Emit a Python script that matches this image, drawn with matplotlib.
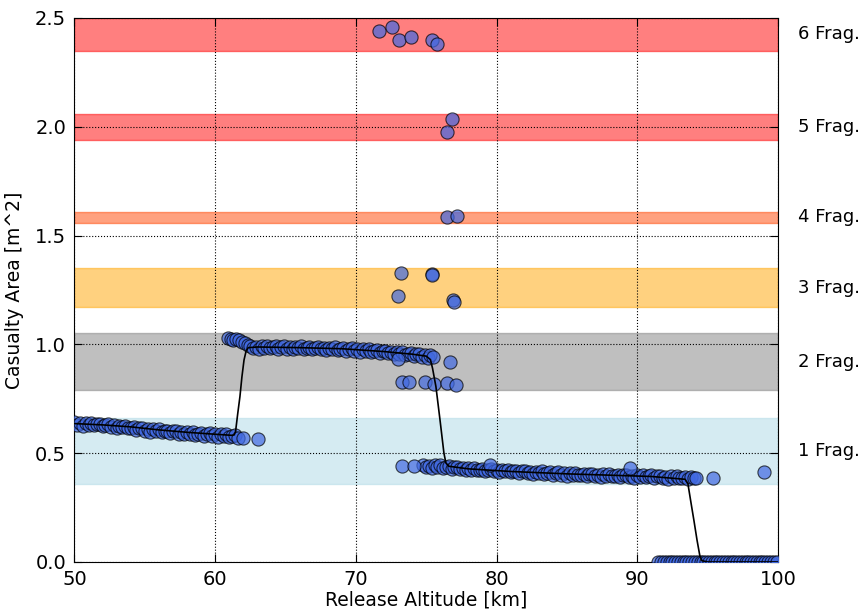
import numpy as np
import matplotlib.pyplot as plt

# fragment bands (casualty area ranges)
band_lo = [0.36, 0.79, 1.17, 1.56, 1.94, 2.35]
band_hi = [0.66, 1.05, 1.35, 1.61, 2.06, 2.50]
band_colors = ['lightblue', 'gray', 'orange', 'orangered', 'red', 'red']
frag_labels = ['1 Frag.', '2 Frag.', '3 Frag.', '4 Frag.', '5 Frag.', '6 Frag.']

# low altitude branch
alt_a = [50.0, 50.2, 50.4, 50.6, 50.8, 51.0, 51.2, 51.4, 51.6, 51.8, 52.0, 52.2,
         52.4, 52.6, 52.8, 53.0, 53.2, 53.4, 53.6, 53.8, 54.0, 54.2, 54.4, 54.6,
         54.8, 55.0, 55.2, 55.4, 55.6, 55.8, 56.0, 56.2, 56.4, 56.6, 56.8, 57.0,
         57.2, 57.4, 57.6, 57.8, 58.0, 58.2, 58.4, 58.6, 58.8, 59.0, 59.2, 59.4,
         59.6, 59.8, 60.0, 60.2, 60.4, 60.6, 60.8, 61.0, 61.2, 61.4, 61.6, 62.0,
         63.06]
area_a = [0.643, 0.630, 0.637, 0.627, 0.638, 0.631, 0.640, 0.628, 0.632, 0.635, 0.624, 0.631,
          0.634, 0.621, 0.628, 0.617, 0.627, 0.619, 0.627, 0.614, 0.617, 0.620, 0.608, 0.615,
          0.617, 0.604, 0.610, 0.599, 0.609, 0.602, 0.610, 0.597, 0.600, 0.604, 0.592, 0.600,
          0.602, 0.590, 0.596, 0.586, 0.596, 0.589, 0.597, 0.585, 0.588, 0.592, 0.581, 0.589,
          0.591, 0.579, 0.586, 0.576, 0.586, 0.580, 0.588, 0.576, 0.580, 0.584, 0.572, 0.568,
          0.564]

# two fragment branch
alt_b = [60.9, 61.1, 61.3, 61.5, 61.7, 61.9, 62.1, 62.3, 62.5, 62.7, 62.9, 63.1,
         63.3, 63.5, 63.7, 63.9, 64.1, 64.3, 64.5, 64.7, 64.9, 65.1, 65.3, 65.5,
         65.7, 65.9, 66.1, 66.3, 66.5, 66.7, 66.9, 67.1, 67.3, 67.5, 67.7, 67.9,
         68.1, 68.3, 68.5, 68.7, 68.9, 69.1, 69.3, 69.5, 69.7, 69.9, 70.1, 70.3,
         70.5, 70.7, 70.9, 71.1, 71.3, 71.5, 71.7, 71.9, 72.1, 72.3, 72.5, 72.7,
         72.9, 73.1, 73.3, 73.5, 73.7, 73.9, 74.1, 74.3, 74.5, 74.7, 74.9, 75.1,
         75.3, 75.5, 73.0, 76.7,
         73.25, 73.8, 74.9, 75.55, 76.45, 77.1]
area_b = [1.028, 1.025, 1.022, 1.026, 1.020, 1.012, 1.005, 0.995, 0.994, 0.983, 0.990, 0.981,
          0.991, 0.985, 0.994, 0.983, 0.987, 0.991, 0.980, 0.989, 0.992, 0.980, 0.987, 0.978,
          0.989, 0.982, 0.991, 0.980, 0.983, 0.988, 0.977, 0.985, 0.988, 0.977, 0.983, 0.974,
          0.984, 0.978, 0.986, 0.975, 0.978, 0.983, 0.971, 0.980, 0.982, 0.970, 0.977, 0.967,
          0.977, 0.970, 0.978, 0.966, 0.969, 0.973, 0.961, 0.969, 0.971, 0.959, 0.965, 0.955,
          0.964, 0.957, 0.965, 0.952, 0.955, 0.959, 0.947, 0.954, 0.956, 0.944, 0.950, 0.939,
          0.949, 0.941, 0.931, 0.918,
          0.829, 0.829, 0.829, 0.820, 0.822, 0.815]

# one fragment branch at high altitude
alt_c = [74.8, 75.0, 75.2, 75.4, 75.6, 75.8, 76.0, 76.2, 76.4, 76.6, 76.8, 77.0,
         77.2, 77.4, 77.6, 77.8, 78.0, 78.2, 78.4, 78.6, 78.8, 79.0, 79.2, 79.4,
         79.6, 79.8, 80.0, 80.2, 80.4, 80.6, 80.8, 81.0, 81.2, 81.4, 81.6, 81.8,
         82.0, 82.2, 82.4, 82.6, 82.8, 83.0, 83.2, 83.4, 83.6, 83.8, 84.0, 84.2,
         84.4, 84.6, 84.8, 85.0, 85.2, 85.4, 85.6, 85.8, 86.0, 86.2, 86.4, 86.6,
         86.8, 87.0, 87.2, 87.4, 87.6, 87.8, 88.0, 88.2, 88.4, 88.6, 88.8, 89.0,
         89.2, 89.4, 89.6, 89.8, 90.0, 90.2, 90.4, 90.6, 90.8, 91.0, 91.2, 91.4,
         91.6, 91.8, 92.0, 92.2, 92.4, 92.6, 92.8, 93.0, 93.2, 93.4, 93.6, 93.8,
         94.0, 94.2,
         73.25, 74.1, 79.5, 89.5, 95.36, 99.0]
area_c = [0.446, 0.435, 0.442, 0.433, 0.444, 0.437, 0.446, 0.433, 0.436, 0.440, 0.428, 0.436,
          0.438, 0.426, 0.432, 0.422, 0.432, 0.425, 0.433, 0.421, 0.425, 0.429, 0.417, 0.425,
          0.428, 0.416, 0.422, 0.412, 0.423, 0.416, 0.424, 0.412, 0.416, 0.420, 0.409, 0.417,
          0.419, 0.408, 0.414, 0.404, 0.415, 0.408, 0.416, 0.405, 0.408, 0.413, 0.401, 0.409,
          0.412, 0.400, 0.407, 0.397, 0.408, 0.401, 0.410, 0.398, 0.402, 0.406, 0.395, 0.403,
          0.406, 0.395, 0.401, 0.392, 0.403, 0.396, 0.405, 0.393, 0.397, 0.402, 0.390, 0.399,
          0.402, 0.390, 0.397, 0.388, 0.398, 0.392, 0.401, 0.389, 0.393, 0.398, 0.386, 0.395,
          0.397, 0.386, 0.392, 0.383, 0.394, 0.387, 0.396, 0.384, 0.388, 0.392, 0.381, 0.389,
          0.388, 0.385,
          0.440, 0.440, 0.446, 0.430, 0.385, 0.412]

# no survival
alt_d = [91.5, 91.7, 91.9, 92.1, 92.3, 92.5, 92.7, 92.9, 93.1, 93.3, 93.5, 93.7,
         93.9, 94.1, 94.3, 94.5, 94.7, 94.9, 95.1, 95.3, 95.5, 95.7, 95.9, 96.1,
         96.3, 96.5, 96.7, 96.9, 97.1, 97.3, 97.5, 97.7, 97.9, 98.1, 98.3, 98.5,
         98.7, 98.9, 99.1, 99.3, 99.5, 99.7, 99.9]
area_d = [0.0] * len(alt_d)

# multi fragment points
alt_e = [71.66, 72.59, 73.04, 73.89, 75.41, 75.79,
         76.81, 76.5,
         76.45, 77.16,
         73.2, 75.43, 75.4, 73.01, 76.88, 77.0]
area_e = [2.440, 2.460, 2.399, 2.411, 2.399, 2.381,
          2.034, 1.975,
          1.584, 1.592,
          1.327, 1.322, 1.318, 1.222, 1.204, 1.196]

# fitted curve
fit_alt = [50.0, 52.0, 54.0, 56.0, 58.0, 60.0, 61.2, 61.35, 61.45, 61.6, 61.76, 61.9,
           62.05, 62.2, 62.35, 63.0, 66.0, 69.0, 72.0, 74.0, 75.0, 75.3, 75.45, 75.69,
           75.98, 76.26, 76.4, 76.6, 78.0, 81.0, 85.0, 88.0, 91.0, 93.4, 93.6, 93.8,
           94.03, 94.25, 94.45, 94.6, 95.0, 100.0]
fit_area = [0.636, 0.630, 0.621, 0.607, 0.596, 0.587, 0.582, 0.584, 0.60, 0.68, 0.76, 0.85,
            0.928, 0.97, 0.985, 0.988, 0.985, 0.980, 0.967, 0.955, 0.946, 0.930, 0.89, 0.806,
            0.653, 0.50, 0.455, 0.440, 0.428, 0.416, 0.405, 0.399, 0.393, 0.380, 0.36, 0.28,
            0.19, 0.10, 0.028, 0.006, 0.0, 0.0]

fig = plt.figure(figsize=(8.64, 6.15), dpi=100)
ax = fig.add_axes([0.0862, 0.0862, 0.8142, 0.8846])

for lo, hi, c, lab in zip(band_lo, band_hi, band_colors, frag_labels):
    ax.axhspan(lo, hi, color=c, alpha=0.5, zorder=1)
    ax.text(101.42, (lo + hi) / 2, lab, va='center', ha='left', fontsize=13, clip_on=False)

alt = alt_a + alt_b + alt_c + alt_d + alt_e
area = area_a + area_b + area_c + area_d + area_e
ax.scatter(alt, area, s=90, color='royalblue', edgecolor='black', linewidth=0.8, alpha=0.7, zorder=3)
ax.plot(fit_alt, fit_area, color='black', lw=1.2, zorder=4)

ax.set_xlim(50, 100)
ax.set_ylim(0, 2.5)
ax.set_xticks([50, 60, 70, 80, 90, 100])
ax.set_yticks([0.0, 0.5, 1.0, 1.5, 2.0, 2.5])
ax.grid(True, color='black', linestyle=':', linewidth=0.8, zorder=2)
ax.set_axisbelow(False)
ax.tick_params(direction='in', top=True, right=True, labelsize=14, length=6, pad=6)
ax.set_xlabel('Release Altitude [km]', fontsize=13.5)
ax.set_ylabel('Casualty Area [m^2]', fontsize=13.5)
ax.xaxis.set_label_coords(0.5, -0.052)
ax.yaxis.set_label_coords(-0.072, 0.5)

plt.savefig('out.png', dpi=100)
